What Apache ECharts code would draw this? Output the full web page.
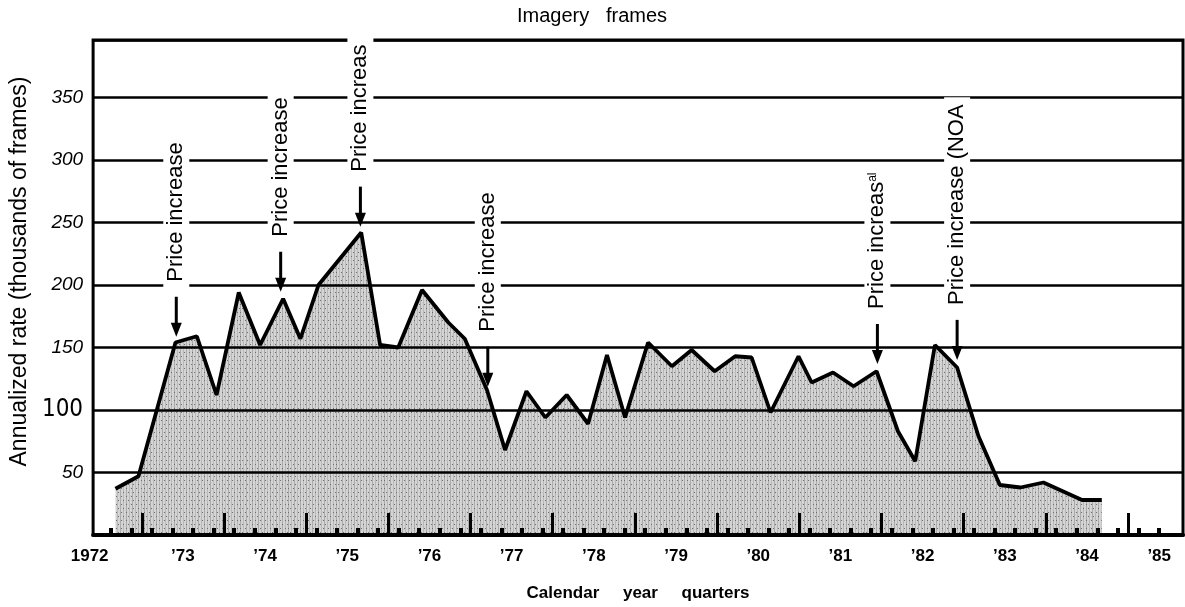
<!DOCTYPE html>
<html>
<head>
<meta charset="utf-8">
<title>Imagery frames</title>
<style>
html,body{margin:0;padding:0;background:#fff;}
#chart{width:1185px;height:607px;}
</style>
<script src="https://cdn.jsdelivr.net/npm/echarts@6.0.0/dist/echarts.min.js"></script>
</head>
<body>
<div id="chart"></div>
<script>
// quarterly points, x in decimal years
var quarters=[1972.18,1972.46,1972.91,1973.17,1973.41,1973.68,1973.94,1974.22,1974.43,1974.65,
    1975.17,1975.40,1975.62,1975.91,1976.23,1976.43,1976.70,1976.92,1977.18,1977.41,
    1977.67,1977.93,1978.16,1978.38,1978.66,1978.95,1979.19,1979.47,1979.72,1979.92,
    1980.15,1980.49,1980.65,1980.91,1981.16,1981.44,1981.70,1981.91,1982.15,1982.42,
    1982.68,1982.94,1983.19,1983.47,1983.94,1984.18];
// annualized rate, thousands of frames
var rates=[37,47,154,159,112,194,152,189,157,200,
    242,152,150,196,170,157,116,68,115,94,
    112,89,144,94,154,135,148,131,143,142,
    98,143,122,130,119,131,83,59,152,134,
    79,40,38,42,28,28];

// price increase notes (arrow tip)
var noteYears=[1972.92,1974.19,1975.16,1976.71,1981.45,1982.42];
var noteRates=[158.6,194.6,246.7,118.6,136.8,140.1];
var noteTexts=['Price increase','Price increase','Price increas','Price increase','Price increas{sup|al}','Price increase (NOA'];

var yearLabels=[1972,1973,1974,1975,1976,1977,1978,1979,1980,1981,1982,1983,1984,1985];
var rateLabels=[50,100,150,200,250,300,350];

var FONT="'Liberation Sans', Arial, sans-serif";

function marks(start,end,step){
    var out=[];
    for(var v=start;v<=end+1e-9;v+=step){
        out.push(Math.round(v*1000)/1000);
    }
    return out;
}
var quarterMarks=marks(1972.125,1984.875,0.25);
var halfYearMarks=marks(1972.5,1984.5,1);

// grey halftone-ish fill
function makeTexture(){
    var c=document.createElement('canvas');
    c.width=48;c.height=48;
    var g=c.getContext('2d');
    g.fillStyle='#d4d4d4';
    g.fillRect(0,0,48,48);
    var greys=['#aaaaaa','#c2c2c2','#9a9a9a','#b8b8b8','#cacaca','#909090'];
    for(var i=0;i<48;i+=3){
        g.fillStyle=greys[i%greys.length];
        g.fillRect(i,0,1,48);
    }
    g.fillStyle='#6e6e6e';
    for(var y=0;y<48;y+=4){
        for(var x=(y%8)/2;x<48;x+=5){
            g.fillRect(x,y,1,1);
        }
    }
    return c;
}

var points=[];
for(var i=0;i<quarters.length;i++){
    points.push([quarters[i],rates[i]]);
}
var notes=[];
for(var j=0;j<noteYears.length;j++){
    notes.push([noteYears[j],noteRates[j]]);
}

function renderNote(params,api){
    var p=api.coord([api.value(0),api.value(1)]);
    return {
        type:'group',
        children:[
            {type:'line',shape:{x1:p[0],y1:p[1]-40,x2:p[0],y2:p[1]-11},style:{stroke:'#000',lineWidth:3}},
            {type:'polygon',shape:{points:[[p[0]-5.5,p[1]-14],[p[0]+5.5,p[1]-14],[p[0],p[1]]]},style:{fill:'#000'}},
            {type:'text',x:p[0],y:p[1]-48,rotation:Math.PI/2,
                style:{text:noteTexts[params.dataIndex],fill:'#000',
                    font:'22px '+FONT,align:'left',verticalAlign:'middle',
                    backgroundColor:'#fff',padding:[2,7],
                    rich:{sup:{fontSize:12,fontFamily:FONT,verticalAlign:'top'}}}}
        ]
    };
}

var XMIN=1971.908,XMAX=1985.168;

var option={
    animation:false,
    backgroundColor:'#fff',
    title:{
        text:'Imagery   frames',
        left:517,
        top:6,
        padding:0,
        textStyle:{fontSize:20,fontWeight:'normal',color:'#000',fontFamily:FONT}
    },
    grid:{
        left:93,
        right:2,
        top:40,
        bottom:72,
        show:true,
        borderColor:'#000',
        borderWidth:3,
        containLabel:false
    },
    xAxis:[
        {
            type:'value',
            min:XMIN,
            max:XMAX,
            position:'bottom',
            z:3,
            name:'Calendar     year     quarters',
            nameLocation:'middle',
            nameGap:50,
            nameTextStyle:{fontSize:17,fontWeight:'bold',color:'#000',fontFamily:FONT},
            axisLine:{show:true,lineStyle:{color:'#000',width:4}},
            axisTick:{show:true,inside:true,length:7,customValues:quarterMarks,lineStyle:{color:'#000',width:4}},
            axisLabel:{
                customValues:yearLabels,
                margin:13,
                color:'#000',
                fontSize:17,
                fontWeight:'bold',
                fontFamily:FONT,
                formatter:function(v){
                    if(v===1972){return '{a|1972}';}
                    if(v===1985){return '{b|\u201985}';}
                    return '\u2019'+String(v).slice(2);
                },
                rich:{
                    a:{fontSize:17,fontWeight:'bold',fontFamily:FONT,color:'#000',padding:[0,22,0,0]},
                    b:{fontSize:17,fontWeight:'bold',fontFamily:FONT,color:'#000',padding:[0,20,0,0]}
                }
            },
            splitLine:{show:false}
        },
        {
            type:'value',
            min:XMIN,
            max:XMAX,
            position:'bottom',
            z:3,
            axisLine:{show:false},
            axisTick:{show:true,inside:true,length:22,customValues:halfYearMarks,lineStyle:{color:'#000',width:3}},
            axisLabel:{show:false},
            splitLine:{show:false}
        }
    ],
    yAxis:{
        type:'value',
        min:0,
        max:396,
        interval:50,
        z:3,
        name:'Annualized rate (thousands of frames)',
        nameLocation:'middle',
        nameGap:60,
        nameTextStyle:{fontSize:23,color:'#000',fontFamily:FONT,padding:[0,0,0,32]},
        axisLine:{show:false},
        axisTick:{show:false},
        splitLine:{show:true,lineStyle:{color:'#000',width:2.5}},
        axisLabel:{
            customValues:rateLabels,
            margin:10,
            color:'#000',
            formatter:function(v){
                return v===100?'{n|100}':'{i|'+v+'}';
            },
            rich:{
                i:{fontSize:19,fontStyle:'italic',fontFamily:FONT,color:'#000'},
                n:{fontSize:24,fontFamily:"'Liberation Sans Narrow', 'DejaVu Sans Condensed', sans-serif",color:'#000'}
            }
        }
    },
    series:[
        {
            type:'line',
            xAxisIndex:0,
            data:points,
            symbol:'none',
            z:2,
            lineStyle:{color:'#000',width:3.8},
            areaStyle:{color:{image:makeTexture(),repeat:'repeat'},opacity:1}
        },
        {
            type:'custom',
            xAxisIndex:0,
            data:notes,
            z:5,
            renderItem:renderNote
        }
    ]
};

var chart=echarts.init(document.getElementById('chart'));
chart.setOption(option);
</script>
</body>
</html>
